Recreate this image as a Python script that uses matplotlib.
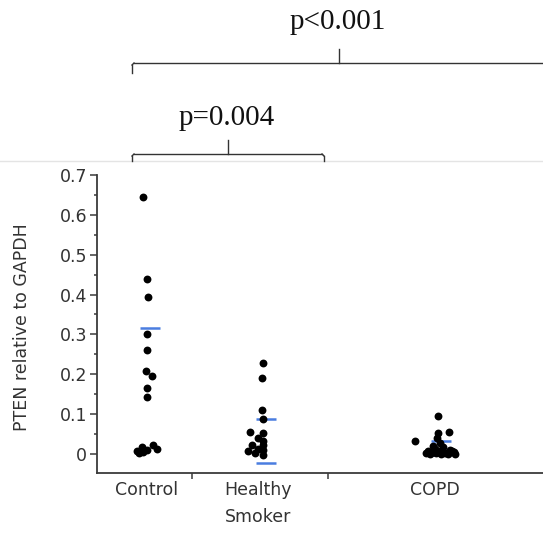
import matplotlib.pyplot as plt
from matplotlib.lines import Line2D
import numpy as np

# ---- data -----------------------------------------------------------------
groups = ['Control', 'Healthy\nSmoker', 'COPD']

ctrl_vals = [0.645, 0.438, 0.393, 0.301, 0.261, 0.208, 0.196, 0.166, 0.142,
             0.006, 0.018, 0.010, 0.022, 0.012, 0.004, 0.003]
hs_vals = [0.228, 0.190, 0.110, 0.088, 0.056, 0.052, 0.039, 0.033, 0.023,
           0.023, 0.008, 0.003, -0.002, 0.010, 0.012]
copd_vals = [0.096, 0.033, 0.053, 0.054, 0.040, 0.028, 0.020, 0.018, 0.008,
             0.004, 0.006, 0.003, 0.006, 0.004, 0.000, 0.001, 0.000, 0.000,
             0.000, 0.002, 0.012, 0.010]

# horizontal summary lines drawn by the software for each group
ctrl_lines = [0.315]
hs_lines = [0.087, -0.023]
copd_lines = [0.033, -0.004]

p_labels = ['p=0.004', 'p<0.001']

# ---- layout (x axis in arbitrary units, 1 unit = 100 px) -----------------
W, H, DPI = 543, 533, 100
centers = [0.497, 1.61, 3.41]
label_pos = [0.495, 1.61, 3.38]
bounds = [0.95, 2.31]
ctrl_jit = [-0.04, 0, 0.016, 0, 0, -0.007, 0.05, 0, 0,
            -0.10, -0.05, 0.0, 0.066, 0.10, -0.037, -0.075]
hs_jit = [0.053, 0.037, 0.037, 0.047, -0.08, 0.053, 0.003, 0.053, -0.063,
          0.047, -0.097, -0.03, 0.047, 0.053, 0.0]
copd_jit = [0.0, -0.23, 0.003, 0.113, -0.007, 0.02, -0.05, 0.05, -0.10,
            -0.05, 0.0, 0.07, 0.14, 0.16, -0.08, -0.02, 0.03, 0.10, 0.17,
            -0.12, -0.03, 0.12]
line_off = [0.033, 0.075, 0.03]

fig = plt.figure(figsize=(W / DPI, H / DPI), dpi=DPI)
ax = fig.add_axes([97 / W, 1 - 473 / H, 1 - 97 / W, (473 - 175) / H])

ink = '#3a3a3a'
blue = '#4a7de0'
for c, vals, jit, lines, off in zip(centers,
                                    [ctrl_vals, hs_vals, copd_vals],
                                    [ctrl_jit, hs_jit, copd_jit],
                                    [ctrl_lines, hs_lines, copd_lines],
                                    line_off):
    for lv in lines:
        ax.plot([c + off - 0.1, c + off + 0.1], [lv, lv], color=blue, lw=1.8,
                zorder=2, solid_capstyle='butt')
    ax.scatter(np.array(jit) + c, vals, s=32, color='black', zorder=3,
               linewidths=0)

ax.set_xlim(0, 4.46)
ax.set_ylim(-0.048, 0.7)
for s in ['top', 'right']:
    ax.spines[s].set_visible(False)
for s in ['left', 'bottom']:
    ax.spines[s].set_color(ink)
    ax.spines[s].set_linewidth(1.3)

ax.set_yticks(np.arange(0, 0.71, 0.1))
ax.set_yticklabels(['0'] + ['%.1f' % v for v in np.arange(0.1, 0.71, 0.1)])
ax.set_yticks(np.arange(0.05, 0.7, 0.1), minor=True)
ax.tick_params(axis='y', which='major', length=5, width=1.1, color=ink,
               labelsize=12.5, labelcolor='#333333', pad=2)
ax.tick_params(axis='y', which='minor', length=2.5, width=1.1, color=ink)

ax.set_xticks(bounds)
ax.set_xticklabels(['', ''])
ax.set_xticks(label_pos, groups, minor=True)
ax.tick_params(axis='x', which='major', length=4, width=1.1, color=ink)
ax.tick_params(axis='x', which='minor', length=0, labelsize=12.5,
               labelcolor='#333333', pad=6)
for t in ax.get_xticklabels(minor=True):
    t.set_linespacing(1.65)

fig.text(22 / W, 1 - 327 / H, 'PTEN relative to GAPDH', rotation=90,
         ha='center', va='center', fontsize=12.5, color='#333333')


# ---- significance brackets (figure pixel coords) ---------------------------
def px(x, y):
    return x / W, 1 - y / H


def seg(x0, y0, x1, y1, color='#333333', lw=1.0):
    (a, b), (c, d) = px(x0, y0), px(x1, y1)
    fig.add_artist(Line2D([a, c], [b, d], color=color, lw=lw,
                          transform=fig.transFigure))


seg(0, 161, W, 161, color='#e4e4e4', lw=1.0)

brackets = [(132, 324, 154, 161, 228, 140), (132, W + 5, 63, 73, 339, 49)]
text_base = [125, 29]
for (x0, x1, yh, ye, xm, yt), lab, yb in zip(brackets, p_labels, text_base):
    seg(x0 + 2, yh, x1 - 2, yh)
    seg(x0, yh + 2, x0, ye)
    seg(x0, yh + 2, x0 + 2, yh)
    seg(x1, yh + 2, x1, ye)
    seg(x1, yh + 2, x1 - 2, yh)
    seg(xm, yh, xm, yt)
    tx, ty = px(xm - 1, yb)
    fig.text(tx, ty, lab, ha='center', va='baseline', fontsize=21,
             family='Liberation Serif', color='#111111')

fig.savefig('out.png', dpi=DPI, facecolor='white')
